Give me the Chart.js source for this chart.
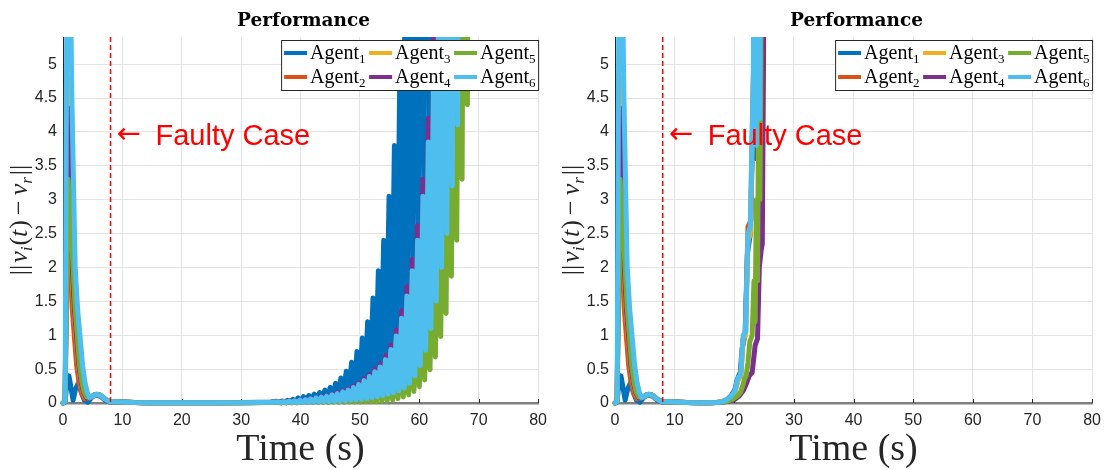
<!DOCTYPE html>
<html>
<head>
<meta charset="utf-8">
<script src="https://cdn.jsdelivr.net/npm/chart.js@4.4.1/dist/chart.umd.min.js"></script>
<style>
  body { margin: 0; background: #fff; }
  .panel { position: absolute; top: 0; height: 470px; }
</style>
</head>
<body>
<div class="panel" style="left:0;width:555px"><canvas id="leftChart" width="555" height="470"></canvas></div>
<div class="panel" style="left:555px;width:554px"><canvas id="rightChart" width="554" height="470"></canvas></div>
<script>
// --- Data: [time (s), ||v_i(t) - v_r||] ---
const agentIds = ['1', '2', '3', '4', '5', '6'];
const agentColors = ['#0072BD', '#D95319', '#EDB120', '#7E2F8E', '#77AC30', '#4DBEEE'];
const panelTitle = 'Performance';
const xTitle = 'Time (s)';
const faultTime = 8;
const faultLabelValue = 3.95;
const faultLabel = 'Faulty Case';

// transient shared by both runs (0 - 16 s)
const startAgent1 = [[0,0],[0.35,0.01],[0.6,0.25],[1.0,0.4],[1.3,0.25],[1.7,0.04],[2.1,0.2],[2.6,0.3],[3.1,0.15],[3.6,0.04],[4.2,0.01],[4.8,0.08],[5.5,0.12],[6.3,0.1],[7.1,0.04],[8.0,0.01],[9,0.02],[10,0.015],[12,0.006],[14,0.004],[16,0.004]];
const startAgent2 = [[0,0],[0.35,0.02],[0.8,3.4],[0.95,2.8],[1.25,2.0],[1.55,1.4],[1.9,1.0],[2.3,0.55],[2.7,0.3],[3.15,0.14],[3.7,0.06],[4.6,0.08],[5.3,0.12],[6.1,0.12],[7.0,0.06],[7.9,0.02],[9,0.02],[10,0.015],[12,0.006],[14,0.004],[16,0.004]];
const startAgent3 = [[0,0],[0.35,0.02],[0.85,4.8],[1.05,3.6],[1.25,2.6],[1.5,2.0],[1.85,1.4],[2.2,1.0],[2.6,0.55],[3.0,0.3],[3.45,0.14],[4.0,0.07],[4.6,0.08],[5.3,0.12],[6.1,0.12],[7.0,0.06],[7.9,0.02],[9,0.02],[10,0.015],[12,0.006],[14,0.004],[16,0.004]];
const startAgent4 = [[0,0],[0.35,0.02],[0.85,4.35],[1.1,3.4],[1.3,2.6],[1.55,2.0],[1.9,1.4],[2.25,1.0],[2.65,0.55],[3.05,0.3],[3.5,0.14],[4.0,0.07],[4.6,0.08],[5.3,0.12],[6.1,0.12],[7.0,0.06],[7.9,0.02],[9,0.02],[10,0.015],[12,0.006],[14,0.004],[16,0.004]];
const startAgent5 = [[0,0],[0.35,0.02],[0.85,3.3],[1.2,2.8],[1.45,2.4],[1.7,2.0],[2.05,1.4],[2.4,1.0],[2.8,0.55],[3.2,0.3],[3.6,0.15],[4.0,0.09],[4.5,0.08],[5.1,0.11],[5.7,0.13],[6.4,0.11],[7.1,0.06],[7.9,0.02],[9,0.02],[10,0.015],[12,0.006],[14,0.004],[16,0.004]];
const startAgent6 = [[0,0],[0.35,0.02],[0.8,9],[1.2,6.5],[1.5,4.5],[1.8,3.1],[2.05,2.0],[2.45,1.4],[2.85,1.0],[3.3,0.55],[3.7,0.3],[4.1,0.15],[4.5,0.08],[5.0,0.1],[5.6,0.13],[6.3,0.11],[7.0,0.06],[7.8,0.02],[9,0.02],[10,0.015],[12,0.006],[14,0.004],[16,0.004]];

// left run: slow growing oscillation after ~35 s
const leftAgent1 = [[18,0.004],[22,0.003],[26,0.004],[30,0.006],[33,0.01],[35,0.015],
  [36,0.025],[36.45,0.012],[36.9,0.03],[37.35,0.015],[37.8,0.04],[38.25,0.02],[38.7,0.055],[39.15,0.025],[39.6,0.075],[40.05,0.032],
  [40.5,0.095],[40.95,0.04],[41.4,0.11],[41.85,0.05],[42.3,0.13],[42.75,0.065],[43.2,0.155],[43.65,0.08],[44.1,0.19],[44.55,0.095],
  [45.0,0.23],[45.45,0.11],[45.9,0.29],[46.35,0.14],[46.8,0.37],[47.25,0.17],[47.7,0.47],[48.15,0.2],[48.6,0.6],[49.05,0.24],
  [49.5,0.76],[49.95,0.29],[50.4,0.96],[50.85,0.35],[51.3,1.2],[51.75,0.42],[52.2,1.55],[52.65,0.5],[53.1,1.95],[53.55,0.58],
  [54.0,2.4],[54.45,0.7],[54.9,3.05],[55.35,0.85],[55.8,3.8],[56.25,1.05],[56.7,4.8],[57.15,1.35],[57.6,6.1],[58.05,1.7],
  [58.5,7.6],[58.95,2.1],[59.4,9.5],[59.85,2.6],[60.3,12],[60.75,3.3],[61.2,15],[61.65,4.2],[62.1,19]];
const leftAgent2 = [[18,0.004],[24,0.003],[30,0.005],[35,0.009],
  [36.3,0.016],[36.75,0.003],[37.2,0.02],[37.65,0.004],[38.1,0.025],[38.55,0.005],[39,0.03],[39.45,0.006],[39.9,0.037],[40.35,0.007],
  [40.8,0.045],[41.25,0.009],[41.7,0.055],[42.15,0.011],[42.6,0.066],[43.05,0.013],[43.5,0.078],[43.95,0.015],[44.4,0.09],[44.85,0.018],
  [45.3,0.11],[45.75,0.022],[46.2,0.125],[46.65,0.025],[47.1,0.15],[47.55,0.03],[48,0.17],[48.45,0.036],[48.9,0.21],[49.35,0.042],
  [49.8,0.25],[50.25,0.05],[50.7,0.3],[51.15,0.06],[51.6,0.35],[52.05,0.07],[52.5,0.41],[52.95,0.083],[53.4,0.48],[53.85,0.1],
  [54.3,0.58],[54.75,0.12],[55.2,0.71],[55.65,0.14],[56.1,0.89],[56.55,0.16],[57,1.12],[57.45,0.2],[57.9,1.42],[58.35,0.26],
  [58.8,1.75],[59.25,0.36],[59.7,2.16],[60.15,0.5],[60.6,2.75],[61.05,0.7],[61.5,3.5],[61.95,1.0],[62.4,4.5],[62.85,1.35],
  [63.3,5.9],[63.75,1.8],[64.2,7.7]];
const leftAgent3 = [[18,0.004],[24,0.003],[30,0.005],[35,0.008],[40,0.02],[44,0.05],
  [44.4,0.08],[44.85,0.016],[45.3,0.095],[45.75,0.02],[46.2,0.11],[46.65,0.022],[47.1,0.13],[47.55,0.026],[48,0.15],[48.45,0.032],
  [48.9,0.18],[49.35,0.038],[49.8,0.22],[50.25,0.045],[50.7,0.26],[51.15,0.055],[51.6,0.31],[52.05,0.065],[52.5,0.37],[52.95,0.075],
  [53.4,0.42],[53.85,0.09],[54.3,0.51],[54.75,0.11],[55.2,0.63],[55.65,0.13],[56.1,0.79],[56.55,0.15],[57,1.0],[57.45,0.18],
  [57.9,1.26],[58.35,0.24],[58.8,1.56],[59.25,0.33],[59.7,1.92],[60.15,0.45],[60.6,2.44],[61.05,0.62],[61.5,3.08],[61.95,0.9],
  [62.4,4.0],[62.85,1.2],[63.3,5.2],[63.75,1.6],[64.2,6.8]];
const leftAgent4 = [[18,0.004],[22,0.003],[26,0.004],[30,0.005],[33,0.007],[35,0.01],
  [36.3,0.02],[36.75,0.004],[37.2,0.025],[37.65,0.005],[38.1,0.03],[38.55,0.006],[39,0.037],[39.45,0.008],[39.9,0.045],[40.35,0.01],
  [40.8,0.055],[41.25,0.012],[41.7,0.067],[42.15,0.015],[42.6,0.08],[43.05,0.018],[43.5,0.095],[43.95,0.022],[44.4,0.11],[44.85,0.027],
  [45.3,0.13],[45.75,0.033],[46.2,0.155],[46.65,0.04],[47.1,0.18],[47.55,0.05],[48.0,0.21],[48.45,0.06],[48.9,0.25],[49.35,0.07],
  [49.8,0.3],[50.25,0.08],[50.7,0.36],[51.15,0.1],[51.6,0.42],[52.05,0.12],[52.5,0.5],[52.95,0.14],[53.4,0.58],[53.85,0.17],
  [54.3,0.7],[54.75,0.2],[55.2,0.86],[55.65,0.24],[56.1,1.08],[56.55,0.3],[57.0,1.36],[57.45,0.38],[57.9,1.72],[58.35,0.5],
  [58.8,2.12],[59.25,0.65],[59.7,2.62],[60.15,0.85],[60.6,3.3],[61.05,1.1],[61.5,4.2],[61.95,1.4],[62.4,5.5],[62.85,1.8],
  [63.3,7],[63.75,2.3],[64.2,9]];
const leftAgent5 = [[18,0.004],[22,0.003],[26,0.004],[30,0.005],[34,0.006],
  [36.15,0.008],[36.6,0.002],[37.05,0.012],[37.5,0.003],[37.95,0.015],[38.4,0.004],[38.85,0.02],[39.3,0.005],[39.75,0.025],[40.2,0.006],
  [40.65,0.03],[41.1,0.007],[41.55,0.037],[42.0,0.008],[42.45,0.045],[42.9,0.009],[43.35,0.055],[43.8,0.01],[44.25,0.067],[44.7,0.011],
  [45.15,0.08],[45.6,0.012],[46.05,0.093],[46.5,0.013],[46.95,0.11],[47.4,0.014],[47.85,0.13],[48.3,0.015],[48.75,0.152],[49.2,0.016],
  [49.65,0.175],[50.1,0.017],[50.55,0.205],[51.0,0.018],[51.45,0.25],[51.9,0.018],[52.35,0.3],[52.8,0.02],[53.25,0.355],[53.7,0.025],
  [54.15,0.42],[54.6,0.035],[55.05,0.49],[55.5,0.045],[55.95,0.57],[56.4,0.065],[56.85,0.7],[57.3,0.09],[57.75,0.87],[58.2,0.12],
  [58.65,1.09],[59.1,0.17],[59.55,1.37],[60.0,0.24],[60.45,1.72],[60.9,0.34],[61.35,2.15],[61.8,0.49],[62.25,2.65],[62.7,0.68],
  [63.15,3.4],[63.6,0.98],[64.05,4.3],[64.5,1.32],[64.95,5.6],[65.4,1.87],[65.85,7.2],[66.3,2.4],[66.75,9.3],[67.2,3.3],
  [67.65,12],[68.1,4.4],[68.55,15]];
const leftAgent6 = [[18,0.004],[22,0.003],[26,0.004],[30,0.005],[33,0.007],[35,0.01],
  [36.3,0.018],[36.75,0.003],[37.2,0.023],[37.65,0.004],[38.1,0.028],[38.55,0.005],[39,0.034],[39.45,0.006],[39.9,0.041],[40.35,0.008],
  [40.8,0.05],[41.25,0.01],[41.7,0.062],[42.15,0.012],[42.6,0.074],[43.05,0.014],[43.5,0.087],[43.95,0.017],[44.4,0.1],[44.85,0.02],
  [45.3,0.12],[45.75,0.024],[46.2,0.14],[46.65,0.028],[47.1,0.165],[47.55,0.033],[48.0,0.19],[48.45,0.04],[48.9,0.23],[49.35,0.047],
  [49.8,0.275],[50.25,0.055],[50.7,0.33],[51.15,0.065],[51.6,0.39],[52.05,0.078],[52.5,0.46],[52.95,0.092],[53.4,0.53],[53.85,0.11],
  [54.3,0.64],[54.75,0.13],[55.2,0.79],[55.65,0.15],[56.1,0.99],[56.55,0.18],[57.0,1.25],[57.45,0.22],[57.9,1.58],[58.35,0.29],
  [58.8,1.95],[59.25,0.4],[59.7,2.4],[60.15,0.55],[60.6,3.05],[61.05,0.78],[61.5,3.85],[61.95,1.1],[62.4,5.0],[62.85,1.5],
  [63.3,6.5],[63.75,2.0],[64.2,8.5],[64.65,2.5],[65.1,11],[65.55,3.2],[66.0,14],[66.45,4.1],[66.9,18]];

// right run: blows up around 20 - 25 s
const rightAgent1 = [[17,0.008],[18,0.02],[18.8,0.05],[19.5,0.11],[20.1,0.2],[20.5,0.35],[21.0,0.45],[21.3,0.8],[21.8,1.0],[22.2,2.2],[22.7,2.5],[23.0,3.7],[23.3,5],[23.5,8],[23.8,3.6],[24.1,8]];
const rightAgent2 = [[17,0.008],[18,0.02],[18.8,0.05],[19.5,0.1],[20.1,0.17],[20.5,0.3],[20.7,0.36],[21.1,0.4],[21.3,0.7],[21.5,0.95],[21.9,1.02],[22.1,1.9],[22.3,2.6],[22.6,2.66],[22.8,2.7],[23.0,3.8],[23.3,5.2],[23.6,8]];
const rightAgent3 = [[17,0.007],[18,0.018],[18.8,0.045],[19.5,0.09],[20.1,0.16],[20.5,0.3],[20.7,0.35],[21.1,0.4],[21.3,0.7],[21.5,0.95],[21.9,1.0],[22.1,1.7],[22.3,2.4],[22.7,2.5],[22.9,3.5],[23.2,4.7],[23.5,8]];
const rightAgent4 = [[17,0.006],[18,0.01],[19,0.025],[20,0.05],[20.8,0.1],[21.5,0.18],[22,0.28],[22.5,0.4],[23.0,0.45],[23.5,0.85],[23.9,0.95],[24.2,2.0],[24.5,2.25],[24.7,2.35],[24.9,5],[25.1,8]];
const rightAgent5 = [[17,0.006],[18,0.012],[19,0.03],[19.8,0.06],[20.5,0.1],[21.0,0.15],[21.4,0.25],[21.7,0.35],[22.0,0.4],[22.3,0.6],[22.6,0.9],[23.0,1.0],[23.3,1.8],[23.5,1.2],[23.7,3.0],[23.9,1.8],[24.1,4.7],[24.3,3.0],[24.45,4.78],[24.6,9]];
const rightAgent6 = [[17,0.008],[18,0.02],[18.8,0.05],[19.5,0.1],[20.1,0.18],[20.5,0.33],[20.7,0.38],[21.1,0.42],[21.3,0.75],[21.5,1.0],[21.9,1.05],[22.1,1.8],[22.3,2.5],[22.7,2.6],[22.9,3.6],[23.2,4.9],[23.35,9],[23.7,3.8],[23.95,9],[24.25,4.2],[24.5,9]];

const startSeries = [startAgent1, startAgent2, startAgent3, startAgent4, startAgent5, startAgent6];
const leftLate = [leftAgent1, leftAgent2, leftAgent3, leftAgent4, leftAgent5, leftAgent6];
const rightLate = [rightAgent1, rightAgent2, rightAgent3, rightAgent4, rightAgent5, rightAgent6];

// --- helpers ---
function drawRich(ctx, parts, x, y) {
    parts.forEach(p => {
        ctx.font = p.font;
        ctx.fillText(p.text, x, y + (p.dy || 0));
        x += ctx.measureText(p.text).width + (p.gap || 0);
    });
}
function richWidth(ctx, parts) {
    let w = 0;
    parts.forEach(p => { ctx.font = p.font; w += ctx.measureText(p.text).width + (p.gap || 0); });
    return w;
}

const UP = '26px "Liberation Serif"', IT = 'italic 26px "Liberation Serif"', SUB = 'italic 17px "Liberation Serif"';
const yLabelParts = [
    { text: '||', font: UP, gap: 2 }, { text: 'v', font: IT }, { text: 'i', font: SUB, dy: 5, gap: 1 },
    { text: '(', font: UP }, { text: 't', font: IT, gap: 1 }, { text: ')', font: UP, gap: 5 },
    { text: '−', font: UP, gap: 5 }, { text: 'v', font: IT }, { text: 'r', font: SUB, dy: 5, gap: 2 },
    { text: '||', font: UP }
];

// titles, fault marker, tick marks and legend
const decorPlugin = {
    id: 'decor',
    beforeDatasetsDraw(chart) {
        const { ctx, chartArea: a, scales: { x } } = chart;
        ctx.save();
        ctx.strokeStyle = '#262626';
        ctx.lineWidth = 1;
        x.ticks.forEach(t => {
            const px = Math.round(x.getPixelForValue(t.value)) + 0.5;
            ctx.beginPath(); ctx.moveTo(px, a.bottom); ctx.lineTo(px, a.bottom - 4); ctx.stroke();
        });
        ctx.restore();
    },
    afterDatasetsDraw(chart) {
        const { ctx, chartArea: a, scales: { x } } = chart;
        const px = x.getPixelForValue(faultTime);
        ctx.save();
        ctx.strokeStyle = '#FF0000';
        ctx.lineWidth = 1.5;
        ctx.setLineDash([5, 3]);
        ctx.beginPath(); ctx.moveTo(px, a.top); ctx.lineTo(px, a.bottom); ctx.stroke();
        ctx.restore();
    },
    afterDraw(chart) {
        const { ctx, chartArea: a, scales: { x, y } } = chart;
        const cx = (a.left + a.right) / 2;
        ctx.save();
        // title
        ctx.fillStyle = '#000';
        ctx.textAlign = 'center';
        ctx.textBaseline = 'alphabetic';
        ctx.font = 'bold 18.5px "DejaVu Serif"';
        ctx.fillText(panelTitle, cx + 3, 26);
        // x title
        ctx.fillStyle = '#262626';
        ctx.font = '38px "Liberation Serif"';
        ctx.fillText(xTitle, cx, 460);
        // y title
        ctx.save();
        ctx.translate(a.left - 36, (a.top + a.bottom) / 2);
        ctx.rotate(-Math.PI / 2);
        ctx.textAlign = 'left';
        drawRich(ctx, yLabelParts, -richWidth(ctx, yLabelParts) / 2, 0);
        ctx.restore();
        // fault annotation
        const fx = x.getPixelForValue(faultTime), fy = y.getPixelForValue(faultLabelValue);
        ctx.fillStyle = '#FF0000';
        ctx.textAlign = 'left';
        ctx.textBaseline = 'middle';
        ctx.font = '29px "DejaVu Sans"';
        ctx.fillText('←', fx + 6, fy);
        ctx.textBaseline = 'alphabetic';
        ctx.font = '29px "Liberation Sans"';
        ctx.fillText(faultLabel, fx + 45, fy + 10);
        // legend, 3 columns x 2 rows, column-major
        const boxW = 258, boxH = 51;
        const bx = a.right + 1 - boxW, by = a.top + 3;
        ctx.fillStyle = '#fff';
        ctx.fillRect(bx, by, boxW, boxH);
        ctx.strokeStyle = '#262626';
        ctx.lineWidth = 1;
        ctx.strokeRect(bx + 0.5, by + 0.5, boxW - 1, boxH - 1);
        for (let c = 0; c < 3; c++) {
            for (let r = 0; r < 2; r++) {
                const i = c * 2 + r;
                const lx = bx + 3 + c * 85, ly = by + 13 + r * 24;
                ctx.strokeStyle = agentColors[i];
                ctx.lineWidth = 4;
                ctx.beginPath(); ctx.moveTo(lx, ly); ctx.lineTo(lx + 23, ly); ctx.stroke();
                ctx.fillStyle = '#000';
                drawRich(ctx, [
                    { text: 'Agent', font: '20px "Liberation Serif"' },
                    { text: agentIds[i], font: '13px "Liberation Serif"', dy: 4 }
                ], lx + 26, ly + 6);
            }
        }
        ctx.restore();
    }
};

function makeChart(canvasId, lateSeries, padLeft) {
    const datasets = agentIds.map((id, i) => ({
        label: 'Agent' + id,
        data: startSeries[i].concat(lateSeries[i]),
        borderColor: agentColors[i],
        borderWidth: 5,
        pointRadius: 0,
        tension: 0,
        borderJoinStyle: 'round',
        borderCapStyle: 'round',
        order: 5 - i,
        clip: { left: 4, top: 0, right: 0, bottom: 4 }
    }));
    return new Chart(document.getElementById(canvasId), {
        type: 'line',
        data: { datasets },
        options: {
            responsive: false,
            animation: false,
            events: [],
            layout: { padding: { left: padLeft, right: 8, top: 37, bottom: 0 } },
            plugins: { legend: { display: false }, tooltip: { enabled: false } },
            scales: {
                x: {
                    type: 'linear', min: 0, max: 80,
                    ticks: { stepSize: 10, color: '#262626', padding: 8, font: { family: 'Liberation Sans', size: 16 } },
                    grid: { color: '#e3e3e3', drawTicks: false },
                    border: { color: '#808080', width: 2.5 },
                    afterFit: s => { s.height = 67; }
                },
                y: {
                    type: 'linear', min: 0, max: 5.4,
                    ticks: {
                        stepSize: 0.5, color: '#262626', padding: 6, font: { family: 'Liberation Sans', size: 16 },
                        callback: v => String(Math.round(v * 10) / 10)
                    },
                    grid: { color: '#e3e3e3', drawTicks: false },
                    border: { color: '#262626', width: 1 },
                    afterBuildTicks: s => { s.ticks = s.ticks.filter(t => t.value <= 5.0001); },
                    afterFit: s => { s.width = 44; }
                }
            }
        },
        plugins: [decorPlugin]
    });
}

makeChart('leftChart', leftLate, 19);
makeChart('rightChart', rightLate, 16);
</script>
</body>
</html>
